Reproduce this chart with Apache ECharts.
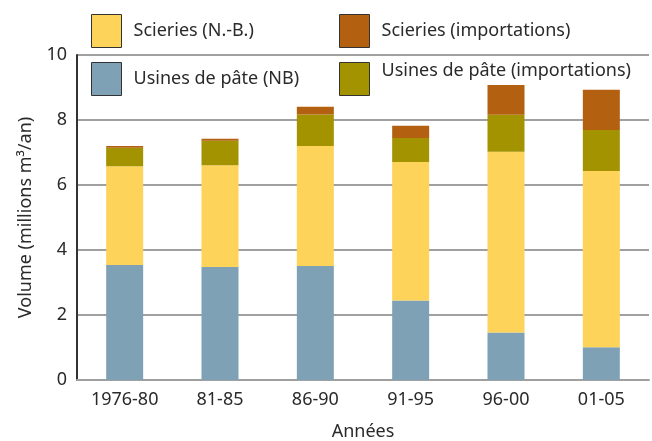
<!DOCTYPE html>
<html>
<head>
<meta charset="utf-8">
<script src="https://cdn.jsdelivr.net/npm/echarts@6/dist/echarts.min.js"></script>
<style>
  html, body { margin: 0; padding: 0; background: #fff; }
  #chart { width: 652px; height: 441px; }
</style>
</head>
<body>
<div id="chart"></div>
<script>
// Periods on the horizontal axis
const periods = ['1976-80', '81-85', '86-90', '91-95', '96-00', '01-05'];

// Volumes in millions of m³ per year, stacked bottom to top
const pulpNB        = [3.54, 3.48, 3.51, 2.45, 1.46, 1.01];
const sawmillsNB    = [3.04, 3.13, 3.69, 4.26, 5.56, 5.42];
const pulpImports   = [0.57, 0.75, 0.97, 0.74, 1.14, 1.26];
const sawmillImports = [0.05, 0.06, 0.24, 0.37, 0.92, 1.24];

const yTicks = { min: 0, max: 10, interval: 2 };

const FONT = '"Noto Sans", sans-serif';
const TEXT = '#2a2a2a';

const names = {
  sawNB: 'Scieries (N.-B.)',
  sawImp: 'Scieries (importations)',
  pulpNB: 'Usines de pâte (NB)',
  pulpImp: 'Usines de pâte (importations)'
};

// One legend block per entry so each can sit at its own spot.
// `raise` lifts the label above the middle of its swatch.
function legendAt(name, left, top, raise) {
  return {
    data: [name],
    left: left,
    top: top,
    padding: 0,
    icon: 'rect',
    itemWidth: 30,
    itemHeight: 33,
    selectedMode: false,
    itemStyle: { borderColor: '#333', borderWidth: 1 },
    formatter: '{t|{name}}',
    textStyle: {
      fontFamily: FONT, fontSize: 18, color: TEXT, padding: [0, 0, 0, 7],
      rich: { t: { fontFamily: FONT, fontSize: 18, color: TEXT, padding: [0, 0, raise * 2, 0] } }
    }
  };
}

function barSeries(name, data, color) {
  return {
    name: name,
    type: 'bar',
    stack: 'volume',
    data: data,
    barWidth: 37,
    itemStyle: { color: color },
    emphasis: { disabled: true }
  };
}

const chart = echarts.init(document.getElementById('chart'), null, { renderer: 'canvas' });
chart.setOption({
  animation: false,
  backgroundColor: '#fff',
  legend: [
    legendAt(names.sawNB, 91, 14, 0),
    legendAt(names.sawImp, 339, 14, 0),
    legendAt(names.pulpNB, 91, 62, 0),
    legendAt(names.pulpImp, 339, 62, 8)
  ],
  grid: { left: 77, right: 3, top: 55, bottom: 61, containLabel: false, outerBoundsMode: 'none' },
  xAxis: {
    type: 'category',
    data: periods,
    name: 'Années',
    nameLocation: 'middle',
    nameGap: 43,
    nameTextStyle: { fontFamily: FONT, fontSize: 18, color: TEXT },
    axisLine: { lineStyle: { color: '#a0a0a0', width: 2 } },
    axisTick: { show: false },
    axisLabel: { fontFamily: FONT, fontSize: 18, color: TEXT, margin: 11 }
  },
  yAxis: {
    type: 'value',
    min: yTicks.min,
    max: yTicks.max,
    interval: yTicks.interval,
    name: 'Volume (millions m³/an)',
    nameLocation: 'middle',
    nameGap: 42,
    nameTextStyle: { fontFamily: FONT, fontSize: 18, color: TEXT },
    axisLine: { show: true, lineStyle: { color: '#333', width: 2 } },
    axisTick: { show: false },
    axisLabel: { fontFamily: FONT, fontSize: 18, color: TEXT, margin: 10 },
    splitLine: { lineStyle: { color: '#a0a0a0', width: 2 } }
  },
  series: [
    barSeries(names.pulpNB, pulpNB, '#7fa1b5'),
    barSeries(names.sawNB, sawmillsNB, '#fdd35a'),
    barSeries(names.pulpImp, pulpImports, '#a39300'),
    barSeries(names.sawImp, sawmillImports, '#b36010')
  ]
});
</script>
</body>
</html>
